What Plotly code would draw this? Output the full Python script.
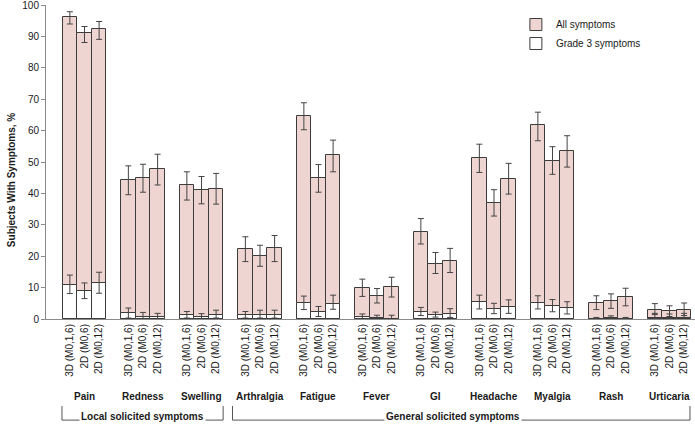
import plotly.graph_objects as go

SYMPTOMS = ["Pain", "Redness", "Swelling", "Arthralgia", "Fatigue", "Fever",
            "GI", "Headache", "Myalgia", "Rash", "Urticaria"]
SCHEDULES = ["3D (M0,1,6)", "2D (M0,6)", "2D (M0,12)"]

# % of subjects, one triple per symptom (3D M0,1,6 / 2D M0,6 / 2D M0,12)
ALL_PCT = [[96.3, 91.1, 92.5], [44.3, 44.9, 47.8], [42.6, 41.1, 41.4],
           [22.3, 20.1, 22.5], [64.8, 44.9, 52.2], [9.9, 7.3, 10.2],
           [27.7, 17.6, 18.5], [51.4, 37.0, 44.7], [61.8, 50.5, 53.5],
           [5.1, 5.8, 6.9], [2.9, 2.5, 2.9]]
ALL_CI_HI = [[97.9, 93.2, 94.8], [48.8, 49.3, 52.5], [46.9, 45.4, 46.4],
             [26.2, 23.5, 26.6], [68.9, 49.2, 57.0], [12.7, 9.7, 13.3],
             [32.0, 21.2, 22.5], [55.7, 41.2, 49.6], [65.9, 54.9, 58.4],
             [7.4, 8.0, 9.8], [4.9, 4.2, 5.1]]
ALL_CI_LO = [[94.0, 88.1, 89.1], [39.6, 40.4, 42.7], [37.9, 36.7, 36.6],
             [18.3, 16.8, 18.3], [60.3, 40.4, 46.9], [7.2, 5.1, 7.0],
             [23.9, 14.5, 14.8], [46.7, 32.8, 39.8], [56.8, 46.1, 48.4],
             [3.0, 3.4, 4.2], [1.4, 0.8, 1.1]]

G3_PCT = [[10.8, 8.9, 11.5], [1.9, 0.6, 0.6], [1.3, 0.6, 1.4],
          [1.3, 1.4, 1.4], [5.1, 2.2, 4.8], [0.5, 0.3, 0.1],
          [2.2, 1.4, 1.7], [5.3, 3.3, 3.8], [5.1, 4.2, 3.5],
          [0.1, 0.3, 0.1], [0.3, 0.3, 0.3]]
G3_CI_HI = [[14.0, 11.5, 14.9], [3.5, 2.1, 1.8], [2.4, 1.7, 2.8],
            [2.4, 2.8, 2.8], [7.3, 4.0, 7.6], [1.6, 1.2, 1.2],
            [3.7, 2.2, 3.3], [7.6, 5.0, 6.1], [7.4, 6.2, 5.5],
            [0.5, 1.0, 0.5], [1.8, 1.6, 1.8]]
G3_CI_LO = [[8.1, 6.5, 8.2], [0.3, 0.0, 0.0], [0.3, 0.0, 0.3],
            [0.3, 0.3, 0.3], [3.0, 0.8, 3.1], [0.0, 0.0, 0.0],
            [1.1, 0.6, 0.5], [3.2, 1.7, 1.8], [3.2, 2.3, 1.6],
            [0.0, 0.0, 0.0], [0.0, 0.0, 0.0]]

FONT = "Arial, Liberation Sans, sans-serif"
BAR_W = 0.25

# bar positions: group index + schedule offset
xs, tick_text = [], []
for g in range(len(SYMPTOMS)):
    for k, sched in enumerate(SCHEDULES):
        xs.append(g + (k - 1) * BAR_W)
        tick_text.append(sched)


def flat(rows):
    return [v for row in rows for v in row]


def errs(val, hi, lo):
    v, h, l = flat(val), flat(hi), flat(lo)
    return [b - a for a, b in zip(v, h)], [a - b for a, b in zip(v, l)]


all_up, all_dn = errs(ALL_PCT, ALL_CI_HI, ALL_CI_LO)
g3_up, g3_dn = errs(G3_PCT, G3_CI_HI, G3_CI_LO)

fig = go.Figure()
fig.add_trace(go.Bar(x=xs, y=flat(ALL_PCT), width=BAR_W, name="All symptoms",
                     marker={"color": "#efd5d2", "line": {"color": "#3c3c3c", "width": 1}},
                     error_y={"type": "data", "array": all_up, "arrayminus": all_dn,
                              "color": "#444444", "thickness": 1, "width": 3}))
fig.add_trace(go.Bar(x=xs, y=flat(G3_PCT), width=BAR_W, name="Grade 3 symptoms",
                     marker={"color": "#ffffff", "line": {"color": "#3c3c3c", "width": 1}},
                     error_y={"type": "data", "array": g3_up, "arrayminus": g3_dn,
                              "color": "#444444", "thickness": 1, "width": 3}))

# symptom names under the rotated schedule labels
for g, name in enumerate(SYMPTOMS):
    fig.add_annotation(x=g, y=-0.248, xref="x", yref="paper", text=f"<b>{name}</b>",
                       xanchor="center", yanchor="middle",
                       showarrow=False, font={"size": 10, "color": "#1a1a1a"})

# brackets for local / general groups
y_top, y_bot = -0.277, -0.322
for x0, x1, label, xl in [(-0.385, 2.37, "Local solicited symptoms", 1.0),
                          (2.53, 10.35, "General solicited symptoms", 6.3)]:
    line = {"color": "#555555", "width": 1}
    fig.add_shape(type="line", xref="x", yref="paper", x0=x0, x1=x0, y0=y_top, y1=y_bot, line=line)
    fig.add_shape(type="line", xref="x", yref="paper", x0=x1, x1=x1, y0=y_top, y1=y_bot, line=line)
    fig.add_shape(type="line", xref="x", yref="paper", x0=x0, x1=x1, y0=y_bot, y1=y_bot, line=line)
    fig.add_annotation(x=xl, y=-0.312, xref="x", yref="paper", text=f"<b>{label}</b>",
                       xanchor="center", yanchor="middle",
                       showarrow=False, bgcolor="white", borderpad=1,
                       font={"size": 10, "color": "#1a1a1a"})

fig.add_annotation(x=-0.052, y=0.443, xref="paper", yref="paper", textangle=-90,
                   text="<b>Subjects With Symptoms, %</b>", showarrow=False,
                   xanchor="center", yanchor="middle",
                   font={"size": 10, "color": "#1a1a1a"})

fig.update_layout(
    width=695, height=426,
    margin={"l": 46, "r": 0, "t": 5, "b": 107, "autoexpand": False},
    paper_bgcolor="white", plot_bgcolor="white",
    barmode="overlay", bargap=0,
    font={"family": FONT, "size": 10, "color": "#1a1a1a"},
    showlegend=True,
    legend={"x": 0.724, "y": 0.984, "xanchor": "left", "yanchor": "top",
            "font": {"size": 10}, "bgcolor": "rgba(0,0,0,0)"},
    xaxis={"range": [-0.658, 10.436], "tickmode": "array", "tickvals": xs,
           "ticktext": tick_text, "tickangle": -90, "showgrid": False,
           "zeroline": False, "showline": True, "linecolor": "#8a8a8a",
           "ticks": "", "tickfont": {"size": 10}, "automargin": False},
    yaxis={"range": [0, 100.05], "tickmode": "array",
           "tickvals": list(range(0, 101, 10)), "showgrid": False, "zeroline": False,
           "showline": True, "linecolor": "#8a8a8a", "ticks": "outside",
           "ticklen": 4, "tickcolor": "#8a8a8a", "tickfont": {"size": 10},
           "ticklabeloverflow": "allow", "automargin": False},
)

# drop the default page margin so the figure sits at the window's corner
fig.write_html("out.html", config={"displayModeBar": False},
               post_script="document.body.style.margin='0';")
